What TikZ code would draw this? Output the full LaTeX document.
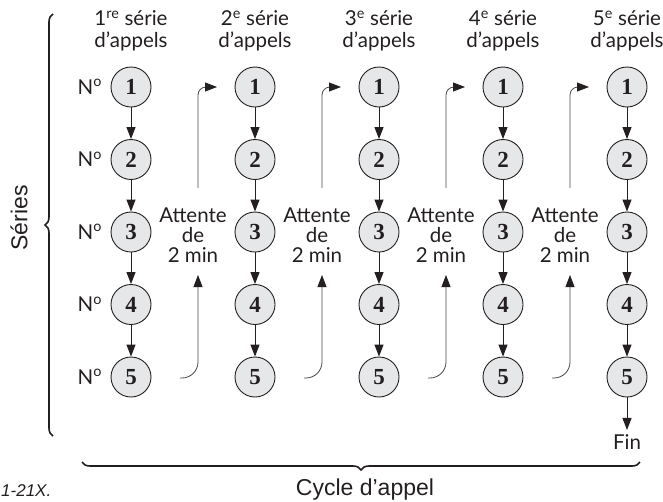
\documentclass[tikz,border=0pt]{standalone}
\usepackage{fontspec}
\usetikzlibrary{arrows.meta,positioning,decorations.pathreplacing}
\newfontfamily\labelfont{Lato}
\newfontfamily\helvfont{Liberation Sans}
\newfontfamily\numfont{Liberation Serif}
\definecolor{inkblack}{RGB}{35,31,32}
\definecolor{callgray}{RGB}{230,231,232}
\definecolor{waitgray}{RGB}{70,70,70}

\tikzset{
  call/.style={draw=inkblack, line width=0.9pt, circle, minimum size=40pt, inner sep=0pt,
    fill=callgray, text=inkblack, font=\numfont\bfseries\fontsize{23}{23}\selectfont},
  lbl/.style={font=\labelfont\fontsize{20.5}{22}\selectfont, text=inkblack, align=center},
  flow/.style={-{Triangle[length=12pt,width=9pt]}, line width=1pt, draw=inkblack},
  wait/.style={-{Triangle[length=12pt,width=9pt,color=inkblack]}, line width=0.8pt, draw=waitgray},
  bracket/.style={decorate, decoration={brace, amplitude=8pt}, line width=1.6pt, draw=inkblack},
}

\begin{document}
\begin{tikzpicture}[x=1pt,y=-1pt]
\useasboundingbox (0,0) rectangle (663,501);

% Headers and calls
\foreach \c/\ext in {1/re,2/e,3/e,4/e,5/e} {
  \node[lbl] (h\c) at ({131+124*(\c-1)},31) {\c\textsuperscript{\ext} série\\d’appels};
  \foreach \r in {1,...,5} {
    \node[call] (c\c-\r) at ({131+124*(\c-1)},{87+72.5*(\r-1)}) {\r};
  }
  \foreach \r [count=\s from 2] in {1,...,4} {
    \draw[flow] (c\c-\r) -- (c\c-\s);
  }
}

% Numero labels
\foreach \r in {1,...,5} {
  \node[lbl, left=5pt of c1-\r] (no\r) {N\textsuperscript{o}};
}

% Waiting between series
\foreach \c in {1,...,4} {
  \coordinate (ws\c) at ({180+124*(\c-1)},378);
  \coordinate (wt\c) at ({198+124*(\c-1)},275);
  \coordinate (us\c) at ({198+124*(\c-1)},188);
  \coordinate (ut\c) at ({217+124*(\c-1)},87);
  \node[lbl, font=\labelfont\fontsize{20.5}{20}\selectfont] (att\c) at ({193+124*(\c-1)},235) {Attente\\de\\2 min};
  \draw[wait, rounded corners=16pt] (ws\c) -| (wt\c);
  \draw[wait, rounded corners=8pt] (us\c) |- (ut\c);
}

% End
\node[lbl] (fin) at (627,442) {Fin};
\draw[flow, shorten >=1pt] (c5-5) -- (fin);

% Braces
\draw[bracket] (53,436) -- (53,14);
\node[font=\helvfont\fontsize{23}{23}\selectfont, text=inkblack, rotate=90] (series) at (19,218) {Séries};
\draw[bracket, decoration={mirror}] (82,462) -- (640,462);
\node[font=\helvfont\fontsize{23}{23}\selectfont, text=inkblack] (cycle) at (365,490) {Cycle d’appel};

\node[font=\helvfont\itshape\fontsize{17}{17}\selectfont, text=inkblack, anchor=west, inner sep=0pt] (fig) at (1,491) {1-21X.};
\end{tikzpicture}
\end{document}
